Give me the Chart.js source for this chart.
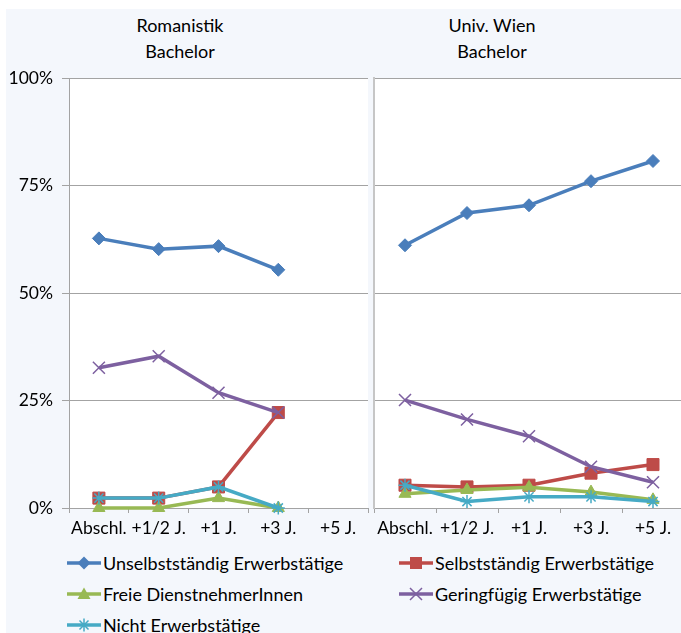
<!DOCTYPE html>
<html>
<head>
<meta charset="utf-8">
<script src="https://cdn.jsdelivr.net/npm/chart.js@4"></script>
<style>
  html, body { margin: 0; padding: 0; overflow: hidden; background: #fff; width: 681px; height: 633px; }
  #bg { position: absolute; left: 6px; top: 9px; width: 675px; height: 624px; background: #f4f7fc; }
  .ttl { position: absolute; width: 200px; font-family: Lato, sans-serif; font-size: 18px; line-height: 26px; text-align: center; color: #000; }
  canvas { position: absolute; top: 68px; }
  .leg { position: absolute; font-family: Lato, sans-serif; font-size: 18px; color: #000; display: flex; align-items: center; white-space: nowrap; }
  .leg svg { margin-right: 2px; }
</style>
</head>
<body>
<div id="bg"></div>
<div class="ttl" style="left:80px; top:12px;">Romanistik<br>Bachelor</div>
<div class="ttl" style="left:392px; top:12px;">Univ. Wien<br>Bachelor</div>
<canvas id="leftChart" width="369" height="480" style="left:0px;"></canvas>
<canvas id="rightChart" width="316" height="480" style="left:369px;"></canvas>
<div id="legend"></div>

<script>
// categories + values (percent)
const categories = ['Abschl.', '+1/2 J.', '+1 J.', '+3 J.', '+5 J.'];
const seriesNames = ['Unselbstständig Erwerbstätige', 'Selbstständig Erwerbstätige',
  'Freie DienstnehmerInnen', 'Geringfügig Erwerbstätige', 'Nicht Erwerbstätige'];
const yTicks = [0, 25, 50, 75, 100];

// Romanistik Bachelor (no +5 J. yet)
const romUnselbst = [62.7, 60.2, 60.9, 55.4, null];
const romSelbst   = [2.3, 2.3, 4.9, 22.2, null];
const romFreie    = [0, 0, 2.3, 0, null];
const romGering   = [32.6, 35.3, 26.8, 22.2, null];
const romNicht    = [2.3, 2.3, 4.9, 0, null];

// Univ. Wien Bachelor
const wienUnselbst = [61.1, 68.6, 70.4, 76.0, 80.7];
const wienSelbst   = [5.3, 4.9, 5.3, 8.1, 10.1];
const wienFreie    = [3.3, 4.2, 4.8, 3.7, 1.9];
const wienGering   = [25.1, 20.6, 16.7, 9.6, 6.0];
const wienNicht    = [5.3, 1.5, 2.6, 2.6, 1.5];

const colors  = ['#4a7ebb', '#be4b48', '#98b954', '#7d60a0', '#46aac5'];
const pStyles = ['rectRot', 'rect', 'triangle', 'crossRot', 'star'];
const pRadius = [6.5, 8.5, 7, 8.5, 6.5];
const pBorder = [1, 1, 1, 1.5, 1.5];
const gridGray = '#a3a3a3';
const tickFont = { family: 'Lato', size: 17.5 };

const makeDatasets = (arrays) => arrays.map((data, i) => ({
  label: seriesNames[i],
  data,
  borderColor: colors[i],
  backgroundColor: colors[i],
  borderWidth: 3.5,
  pointStyle: pStyles[i],
  pointRadius: pRadius[i],
  pointBorderWidth: pBorder[i],
  pointBorderColor: colors[i],
  pointBackgroundColor: colors[i],
  tension: 0,
  clip: false,
  order: 5 - i,   // later series drawn on top, like the original
}));

// white plot area on the tinted background
const plotBg = {
  id: 'plotBg',
  beforeDraw(chart) {
    const { ctx, chartArea: a } = chart;
    ctx.save();
    ctx.fillStyle = '#fff';
    ctx.fillRect(a.left, a.top, a.right - a.left, a.bottom - a.top);
    ctx.restore();
  }
};

const xScale = () => ({
  type: 'category',
  offset: true,
  grid: { offset: true, drawOnChartArea: false, tickLength: 5, color: gridGray },
  border: { color: gridGray },
  ticks: { font: tickFont, color: '#000', padding: 5, maxRotation: 0, autoSkip: false },
  afterFit: (s) => { s.height = 40; s.paddingLeft = 0; s.paddingRight = 0; },
});

const baseOptions = {
  responsive: false,
  animation: false,
  events: [],
  plugins: { legend: { display: false }, title: { display: false }, tooltip: { enabled: false } },
};

new Chart(document.getElementById('leftChart'), {
  type: 'line',
  data: {
    labels: categories,
    datasets: makeDatasets([romUnselbst, romSelbst, romFreie, romGering, romNicht]),
  },
  options: {
    ...baseOptions,
    layout: { autoPadding: false, padding: { top: 10, right: 1, left: 0, bottom: 0 } },
    scales: {
      x: xScale(),
      y: {
        min: 0, max: 100,
        afterBuildTicks: (s) => { s.ticks = yTicks.map(v => ({ value: v })); },
        grid: { color: gridGray, tickLength: 7 },
        border: { color: gridGray },
        ticks: { font: tickFont, color: '#000', padding: 9, callback: (v) => v + '%' },
        afterFit: (s) => { s.width = 69; s.paddingTop = 0; s.paddingBottom = 0; },
      },
    },
  },
  plugins: [plotBg],
});

new Chart(document.getElementById('rightChart'), {
  type: 'line',
  data: {
    labels: categories,
    datasets: makeDatasets([wienUnselbst, wienSelbst, wienFreie, wienGering, wienNicht]),
  },
  options: {
    ...baseOptions,
    layout: { autoPadding: false, padding: { top: 10, right: 1, left: 5, bottom: 0 } },
    scales: {
      x: xScale(),
      y: {
        min: 0, max: 100,
        afterBuildTicks: (s) => { s.ticks = yTicks.map(v => ({ value: v })); },
        grid: { color: gridGray, drawTicks: false },
        border: { color: '#c6c6c6', width: 2 },
        ticks: { display: false },
        afterFit: (s) => { s.width = 0; s.paddingTop = 0; s.paddingBottom = 0; },
      },
    },
  },
  plugins: [plotBg],
});

// legend: line sample with marker, two columns
const markerSvg = (i) => {
  const c = colors[i];
  let m = '';
  switch (pStyles[i]) {
    case 'rectRot': m = `<polygon points="17,2.5 23.5,9 17,15.5 10.5,9" fill="${c}"/>`; break;
    case 'rect': m = `<rect x="11" y="3" width="12" height="12" fill="${c}"/>`; break;
    case 'triangle': m = `<polygon points="17,2.5 23.5,14 10.5,14" fill="${c}"/>`; break;
    case 'crossRot': m = `<path d="M11,3 L23,15 M11,15 L23,3" stroke="${c}" stroke-width="1.5"/>`; break;
    case 'star': m = `<path d="M17,2.5 L17,15.5 M10.5,9 L23.5,9 M12.5,4.5 L21.5,13.5 M12.5,13.5 L21.5,4.5" stroke="${c}" stroke-width="1.5"/>`; break;
  }
  return `<svg width="34" height="18"><line x1="0" y1="9" x2="34" y2="9" stroke="${c}" stroke-width="3.5"/>${m}</svg>`;
};

const legendPos = [[67, 563], [399, 563], [67, 594], [399, 594], [67, 625]];
const legend = document.getElementById('legend');
seriesNames.forEach((name, i) => {
  const d = document.createElement('div');
  d.className = 'leg';
  d.style.left = legendPos[i][0] + 'px';
  d.style.top = (legendPos[i][1] - 11) + 'px';
  d.style.height = '22px';
  d.innerHTML = markerSvg(i) + '<span>' + name + '</span>';
  legend.appendChild(d);
});
</script>
</body>
</html>
